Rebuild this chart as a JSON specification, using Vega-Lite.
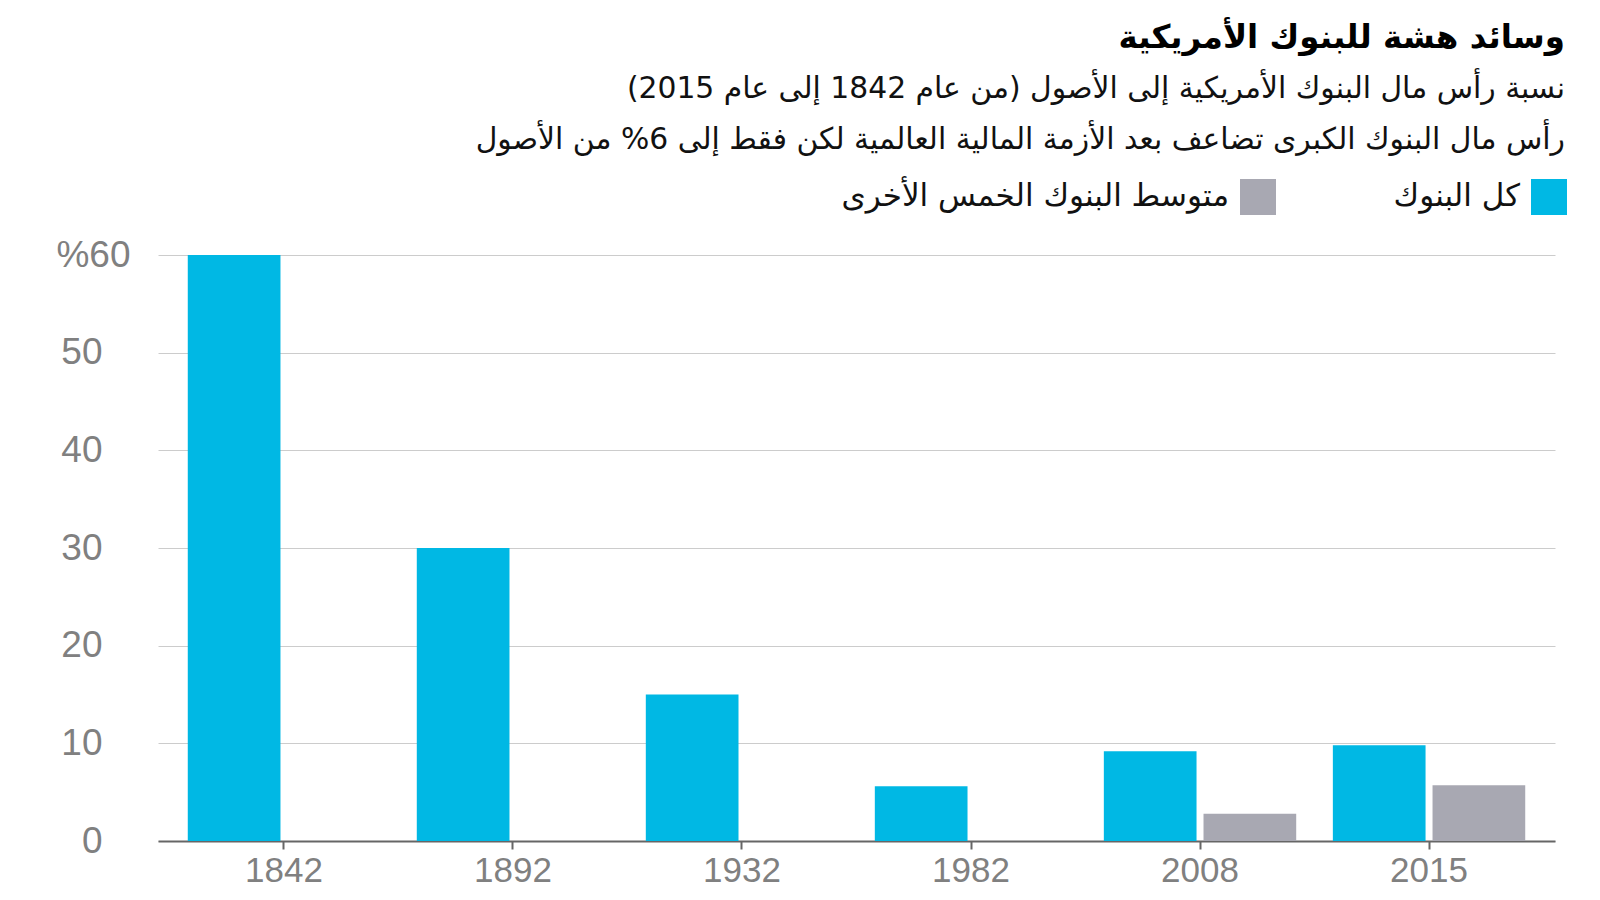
{
  "$schema": "https://vega.github.io/schema/vega-lite/v6.json",
  "width": 1397,
  "height": 586,
  "autosize": {"type": "none"},
  "padding": {"left": 158, "top": 255, "right": 45, "bottom": 59},
  "background": "white",
  "title": {
    "text": "وسائد هشة للبنوك الأمريكية",
    "subtitle": [
      "\u200fنسبة رأس مال البنوك الأمريكية إلى الأصول (من عام 1842 إلى عام 2015)\u200f",
      "\u200fرأس مال البنوك الكبرى تضاعف بعد الأزمة المالية العالمية لكن فقط إلى 6% من الأصول\u200f"
    ],
    "anchor": "end",
    "frame": "group",
    "orient": "top",
    "dx": 10,
    "offset": 24,
    "font": "DejaVu Sans",
    "fontSize": 32.5,
    "fontWeight": "bold",
    "color": "#000000",
    "subtitleFont": "DejaVu Sans",
    "subtitleFontSize": 29.8,
    "subtitleColor": "#111111",
    "subtitleLineHeight": 51,
    "subtitlePadding": 20
  },
  "data": {
    "values": [
      {"year": "1842", "category": "كل البنوك", "value": 60},
      {"year": "1892", "category": "كل البنوك", "value": 30},
      {"year": "1932", "category": "كل البنوك", "value": 15},
      {"year": "1982", "category": "كل البنوك", "value": 5.6},
      {"year": "2008", "category": "كل البنوك", "value": 9.2},
      {"year": "2008", "category": "متوسط البنوك الخمس الأخرى", "value": 2.8},
      {"year": "2015", "category": "كل البنوك", "value": 9.8},
      {"year": "2015", "category": "متوسط البنوك الخمس الأخرى", "value": 5.7}
    ]
  },
  "mark": {"type": "bar"},
  "encoding": {
    "x": {
      "field": "year",
      "type": "ordinal",
      "scale": {"paddingInner": 0.16, "paddingOuter": 0.13},
      "axis": {
        "title": null,
        "labelAngle": 0,
        "labelFont": "Liberation Sans",
        "labelFontSize": 35,
        "labelColor": "#808080",
        "labelPadding": 4,
        "domain": true,
        "domainColor": "#666666",
        "domainWidth": 2,
        "ticks": true,
        "tickColor": "#666666",
        "tickSize": 8,
        "tickWidth": 2,
        "grid": false
      }
    },
    "xOffset": {
      "field": "category",
      "scale": {"domain": ["كل البنوك", "متوسط البنوك الخمس الأخرى"], "paddingInner": 0.07}
    },
    "y": {
      "field": "value",
      "type": "quantitative",
      "scale": {"domain": [0, 60]},
      "axis": {
        "title": null,
        "values": [0, 10, 20, 30, 40, 50, 60],
        "labelExpr": "datum.value == 60 ? '%60' : datum.label",
        "labelFont": "Liberation Sans",
        "labelFontSize": 37,
        "labelColor": "#808080",
        "labelPadding": {"condition": {"test": "datum.value == 60", "value": 28}, "value": 56},
        "labelBaseline": "middle",
        "ticks": false,
        "domain": false,
        "grid": true,
        "gridColor": "#cccccc",
        "gridWidth": 1
      }
    },
    "color": {
      "field": "category",
      "type": "nominal",
      "scale": {
        "domain": ["متوسط البنوك الخمس الأخرى", "كل البنوك"],
        "range": ["#A8A8B2", "#00B8E4"]
      },
      "legend": {
        "title": null,
        "orient": "none",
        "direction": "horizontal",
        "legendX": 1082,
        "legendY": -76,
        "symbolType": "square",
        "symbolSize": 1296,
        "symbolStrokeWidth": 0,
        "symbolOpacity": 1,
        "labelFont": "DejaVu Sans",
        "labelFontSize": 31,
        "labelColor": "#111111",
        "labelAlign": "right",
        "labelOffset": -47,
        "labelLimit": 600,
        "columnPadding": 117
      }
    }
  },
  "config": {
    "view": {"stroke": null}
  }
}
